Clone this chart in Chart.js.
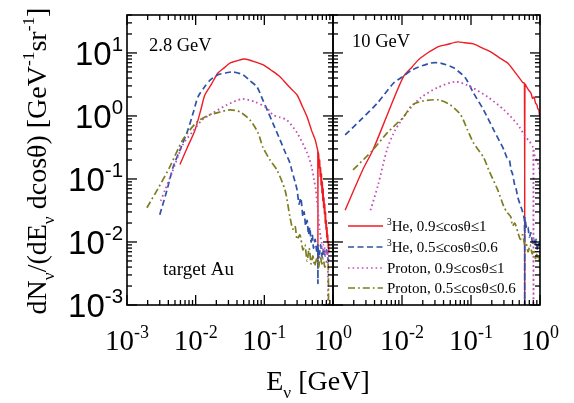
<!DOCTYPE html>
<html><head><meta charset="utf-8">
<script src="https://cdn.jsdelivr.net/npm/chart.js@4.4.1/dist/chart.umd.min.js"></script>
<style>
html,body{margin:0;padding:0;background:#fff;}
#wrap{position:relative;width:574px;height:403px;overflow:hidden;}
canvas{position:absolute;left:0;top:0;}
</style></head><body>
<div id="wrap"><canvas id="c1" width="574" height="403"></canvas><canvas id="c2" width="574" height="403"></canvas></div>
<script>
// ---------- data (E in GeV, dN/(dE dcos) in GeV^-1 sr^-1) ----------
const seriesNames = ['He, 0.9\u2264cos\u03b8\u22641', 'He, 0.5\u2264cos\u03b8\u22640.6', 'Proton, 0.9\u2264cos\u03b8\u22641', 'Proton, 0.5\u2264cos\u03b8\u22640.6'];
const panelLabels = ['2.8 GeV', '10 GeV'];
const targetLabel = 'target Au';

// 2.8 GeV panel
const he3Fwd28E = [0.0059,0.0075,0.0098,0.0120,0.0136,0.017,0.0211,0.026,0.0315,0.040,0.052,0.068,0.095,0.13,0.169,0.23,0.30,0.36,0.42,0.49,0.55,0.58,0.60,0.603,0.606,0.62,0.63,0.64,0.65,0.66,0.67,0.68,0.69,0.70,0.71,0.72,0.73,0.74,0.75,0.76,0.77,0.78,0.79,0.80,0.81,0.82,0.83,0.84,0.85,0.86,0.87,0.88];
const he3Fwd28N = [0.17,0.31,0.60,1.3,2.15,3.2,4.8,5.8,6.9,7.5,8.0,7.4,6.5,5.2,4.2,2.9,2.15,1.4,0.96,0.58,0.42,0.33,0.28,0.005,0.27,0.24,0.15,0.2,0.11,0.15,0.08,0.12,0.06,0.09,0.045,0.07,0.035,0.05,0.028,0.04,0.02,0.03,0.016,0.022,0.012,0.017,0.01,0.013,0.008,0.01,0.007,0.0075];

const he3Bwd28E = [0.0030,0.0038,0.0047,0.0060,0.0077,0.0092,0.0108,0.0135,0.0162,0.0211,0.027,0.035,0.049,0.062,0.078,0.095,0.115,0.133,0.169,0.20,0.236,0.25,0.28,0.30,0.32,0.34,0.365,0.38,0.40,0.42,0.44,0.46,0.48,0.50,0.52,0.55,0.58,0.60,0.603,0.606,0.63,0.66,0.70,0.73,0.77,0.81,0.85,0.88];
const he3Bwd28N = [0.027,0.065,0.155,0.30,0.6,1.12,2.0,2.9,3.7,4.5,4.8,5.0,4.5,3.6,2.9,1.8,1.12,0.77,0.42,0.27,0.18,0.14,0.09,0.067,0.04,0.05,0.025,0.03,0.018,0.022,0.013,0.017,0.01,0.013,0.008,0.011,0.007,0.009,0.0022,0.008,0.006,0.009,0.0055,0.008,0.006,0.0075,0.005,0.006];

const pFwd28E = [0.0031,0.0036,0.0045,0.0065,0.0090,0.0124,0.0179,0.0286,0.047,0.073,0.109,0.133,0.17,0.213,0.30,0.42,0.49,0.53,0.56,0.58,0.60,0.62,0.64,0.66,0.68,0.70,0.72,0.74,0.76,0.78,0.80,0.82,0.84,0.845];
const pFwd28N = [0.045,0.068,0.124,0.35,0.56,0.86,1.12,1.5,1.86,1.67,1.34,1.04,0.95,0.86,0.54,0.26,0.155,0.096,0.07,0.047,0.035,0.022,0.016,0.012,0.01,0.008,0.009,0.0065,0.008,0.007,0.0075,0.006,0.007,0.0011];

const pBwd28E = [0.00195,0.0028,0.0042,0.0065,0.0104,0.0146,0.0204,0.0316,0.044,0.062,0.081,0.095,0.121,0.152,0.20,0.236,0.26,0.28,0.30,0.33,0.365,0.39,0.42,0.45,0.48,0.51,0.54,0.58,0.62,0.65,0.69,0.72,0.76,0.81,0.85,0.86];
const pBwd28N = [0.035,0.069,0.155,0.42,0.80,1.0,1.12,1.25,1.16,0.86,0.54,0.32,0.20,0.14,0.067,0.025,0.016,0.018,0.011,0.013,0.0075,0.009,0.005,0.008,0.0045,0.006,0.0042,0.0055,0.004,0.006,0.0045,0.0055,0.004,0.005,0.0045,0.001];

// 10 GeV panel
const he3Fwd10E = [0.0015,0.0027,0.0038,0.0068,0.0105,0.014,0.0185,0.0325,0.045,0.064,0.08,0.109,0.15,0.193,0.25,0.34,0.43,0.53,0.56,0.595,0.60,0.605,0.64,0.68,0.74,0.78,0.82,0.86,0.90,0.93,0.96,0.98,1.0];
const he3Fwd10N = [0.032,0.14,0.29,1.39,4.2,6.0,8.3,12.4,13.6,15,14.5,13.9,11.8,10.4,8.6,6.9,5.0,3.7,3.4,3.3,0.001,3.2,2.9,2.6,2.3,1.9,2.0,1.6,1.5,1.3,1.25,1.05,1.0];

const he3Bwd10E = [0.0015,0.0025,0.0044,0.0075,0.0105,0.0141,0.0258,0.036,0.056,0.083,0.109,0.152,0.213,0.30,0.33,0.36,0.38,0.40,0.43,0.45,0.48,0.53,0.56,0.595,0.60,0.605,0.64,0.67,0.70,0.74,0.78,0.81,0.85,0.88,0.92,0.96,1.0];
const he3Bwd10N = [0.5,0.86,1.6,3.3,4.3,5.4,6.9,6.9,5.8,4.0,2.3,1.25,0.6,0.29,0.22,0.2,0.14,0.12,0.08,0.07,0.05,0.036,0.03,0.022,0.001,0.024,0.016,0.017,0.012,0.014,0.0096,0.011,0.0085,0.011,0.0075,0.0095,0.008];

const pFwd10E = [0.0035,0.0045,0.0061,0.0080,0.012,0.0185,0.0324,0.060,0.099,0.175,0.30,0.48,0.62,0.70,0.79,0.80,0.805,0.81,0.85,0.90,0.93,0.96,1.0];
const pFwd10N = [0.032,0.08,0.30,0.6,1.16,1.93,2.8,3.5,2.9,2.0,1.25,0.72,0.46,0.40,0.32,0.30,0.001,0.28,0.22,0.2,0.18,0.15,0.12];

const pBwd10E = [0.00195,0.0038,0.0061,0.0105,0.0141,0.0204,0.034,0.050,0.071,0.089,0.109,0.152,0.18,0.244,0.30,0.33,0.377,0.40,0.43,0.48,0.52,0.56,0.60,0.63,0.67,0.72,0.77,0.81,0.86,0.91,0.96,1.0];
const pBwd10N = [0.139,0.29,0.54,0.96,1.5,1.73,1.8,1.5,1.04,0.6,0.37,0.22,0.14,0.067,0.036,0.03,0.025,0.018,0.02,0.014,0.011,0.013,0.009,0.0096,0.007,0.009,0.0065,0.0075,0.0055,0.0065,0.005,0.006];

// axis decades / tick labels
const yDecades = [-3,-2,-1,0,1];
const xDecadesLeft = [-3,-2,-1,0];
const xDecadesRight = [-2,-1,0];

// ---------- styles ----------
const styles = [
  {color:'#ee1c24', dash:[], w:1.4},
  {color:'#2f52a8', dash:[6,3.5], w:1.7},
  {color:'#c24fb8', dash:[1.6,3], w:1.8},
  {color:'#7d7d22', dash:[7,3,1.8,3], w:1.7}
];
const SERIF = '"Liberation Serif","Times New Roman",serif';
const SANS = '"Liberation Sans",Arial,sans-serif';

function pts(E, N){ return E.map((e,i)=>({x:e, y:N[i]})); }
function ds(E, N, k){
  return {data: pts(E,N), borderColor: styles[k].color, borderDash: styles[k].dash,
          borderWidth: styles[k].w, pointRadius: 0, fill: false, tension: 0.25};
}

function drawRich(ctx, runs, x, y, F, family, align){
  const fs = r => r.s ? F*0.62 : F;
  let w = 0;
  runs.forEach(r => { ctx.font = fs(r)+'px '+family; w += ctx.measureText(r.t).width; });
  let cx = align==='center' ? x - w/2 : (align==='right' ? x - w : x);
  ctx.textBaseline = 'alphabetic'; ctx.textAlign = 'left';
  runs.forEach(r => {
    ctx.font = fs(r)+'px '+family;
    const dy = r.s==='sup' ? -F*0.42 : (r.s==='sub' ? F*0.28 : 0);
    ctx.fillText(r.t, cx, y+dy);
    cx += ctx.measureText(r.t).width;
  });
}
function exp10(d){ return d<0 ? '-'+(-d) : String(d); }

function makeAxesPlugin(side){
  return {
    id: 'axes'+side,
    afterDatasetsDraw(chart){
      const ctx = chart.ctx, a = chart.chartArea, xs = chart.scales.x, ys = chart.scales.y;
      ctx.save();
      ctx.strokeStyle = '#000'; ctx.fillStyle = '#000';
      ctx.lineWidth = 1.3;
      const seg = (x1,y1,x2,y2)=>{ctx.beginPath();ctx.moveTo(x1,y1);ctx.lineTo(x2,y2);ctx.stroke();};
      for (let d=-3; d<=0; d++) for (let m=1; m<=9; m++){
        const v = m*Math.pow(10,d);
        if (v < xs.min*0.999 || v > xs.max*1.001) continue;
        const px = xs.getPixelForValue(v);
        const L = m===1 ? 10 : 5;
        seg(px, a.bottom, px, a.bottom-L);
        seg(px, a.top, px, a.top+L);
      }
      for (let d=-3; d<=1; d++) for (let m=1; m<=9; m++){
        const v = m*Math.pow(10,d);
        if (v < ys.min*0.999 || v > ys.max*1.001) continue;
        const py = ys.getPixelForValue(v);
        const L = m===1 ? 10 : 5;
        seg(a.left, py, a.left+L, py);
        seg(a.right, py, a.right-L, py);
      }
      ctx.lineWidth = 1.6;
      ctx.strokeRect(a.left, a.top, a.right-a.left, a.bottom-a.top);

      const xd = side==='L' ? xDecadesLeft : xDecadesRight;
      xd.forEach(d=>{
        const px = xs.getPixelForValue(Math.pow(10,d));
        drawRich(ctx, [{t:'10'},{t:exp10(d), s:'sup'}], px, 350, 29, SERIF, 'center');
      });

      if (side==='L'){
        yDecades.forEach(d=>{
          const py = ys.getPixelForValue(Math.pow(10,d));
          drawRich(ctx, [{t:'10'},{t:exp10(d), s:'sup'}], 123, py+12, 33, SANS, 'right');
        });
        drawRich(ctx, [{t:'E'},{t:'\u03bd', s:'sub'},{t:' [GeV]'}], 318, 390, 28, SERIF, 'center');
        ctx.save();
        ctx.translate(46, 161);
        ctx.rotate(-Math.PI/2);
        drawRich(ctx, [{t:'dN'},{t:'\u03bd',s:'sub'},{t:'/(dE'},{t:'\u03bd',s:'sub'},{t:' dcos\u03b8) [GeV'},{t:'-1',s:'sup'},{t:'sr'},{t:'-1',s:'sup'},{t:']'}], 0, 0, 28, SERIF, 'center');
        ctx.restore();
        drawRich(ctx, [{t:panelLabels[0]}], 149, 51, 18.5, SERIF, 'left');
        drawRich(ctx, [{t:targetLabel}], 163, 275, 19, SERIF, 'left');
      } else {
        drawRich(ctx, [{t:panelLabels[1]}], 352, 47, 18.5, SERIF, 'left');
        const rows = [226, 247, 268, 288];
        const sups = ['3','3','',''];
        rows.forEach((ry,k)=>{
          ctx.save();
          ctx.strokeStyle = styles[k].color; ctx.lineWidth = 1.4; ctx.setLineDash(styles[k].dash);
          seg(348, ry, 383, ry);
          ctx.restore();
          const runs = sups[k] ? [{t:sups[k], s:'sup'},{t:seriesNames[k]}] : [{t:seriesNames[k]}];
          drawRich(ctx, runs, 387, ry+5, 15, SERIF, 'left');
        });
      }
      ctx.restore();
    }
  };
}

function makeChart(id, padL, padR, datasets, side){
  return new Chart(document.getElementById(id), {
    type: 'line',
    data: {datasets},
    options: {
      responsive: false, animation: false, devicePixelRatio: 1,
      layout: {padding: {left: padL, right: padR, top: 15, bottom: 98}},
      plugins: {legend: {display: false}, tooltip: {enabled: false}},
      scales: {
        x: {type: 'logarithmic', min: 0.001, max: 1, display: false},
        y: {type: 'logarithmic', min: 0.001, max: 40, display: false}
      }
    },
    plugins: [makeAxesPlugin(side)]
  });
}

makeChart('c1', 127, 574-333, [
  ds(pBwd28E, pBwd28N, 3), ds(pFwd28E, pFwd28N, 2), ds(he3Bwd28E, he3Bwd28N, 1), ds(he3Fwd28E, he3Fwd28N, 0)
], 'L');
makeChart('c2', 333, 574-540, [
  ds(pBwd10E, pBwd10N, 3), ds(pFwd10E, pFwd10N, 2), ds(he3Bwd10E, he3Bwd10N, 1), ds(he3Fwd10E, he3Fwd10N, 0)
], 'R');
</script>
</body></html>
